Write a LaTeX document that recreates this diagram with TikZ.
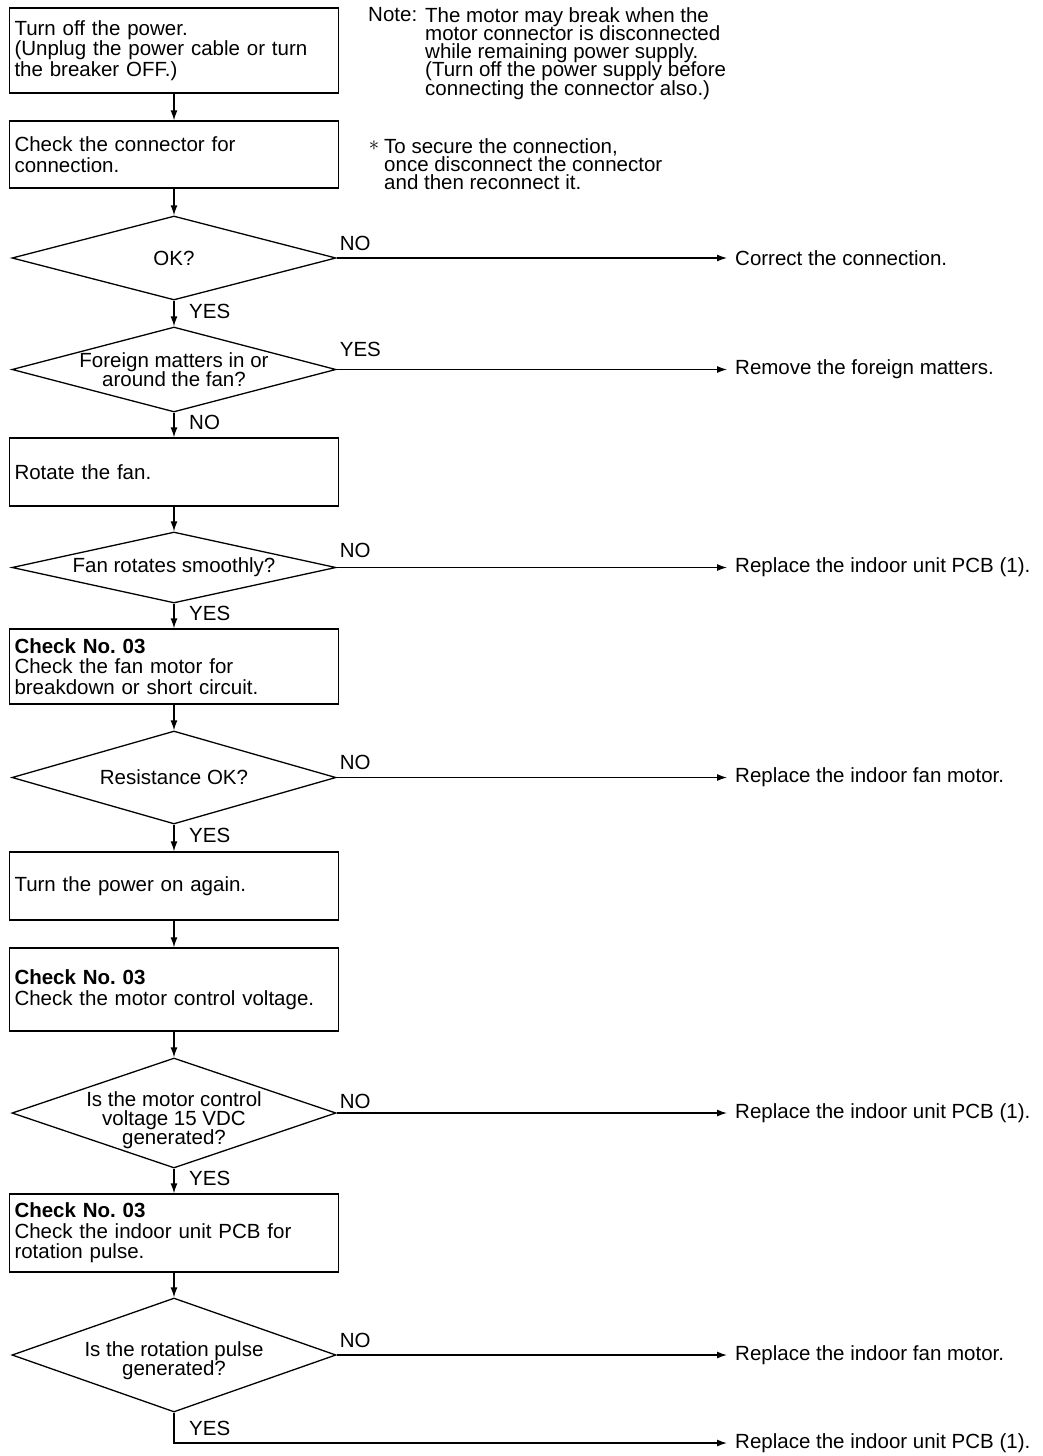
\documentclass[tikz,border=0pt]{standalone}
\usepackage{fontspec}
\setmainfont{Liberation Sans}
\usetikzlibrary{arrows.meta,shapes.geometric}
\frenchspacing
\setlength{\lineskiplimit}{-100pt}
\setlength{\lineskip}{0pt}

\begin{document}
\begin{tikzpicture}[x=1pt,y=-1pt,
  stepbox/.style={draw,line width=1.3pt,text width=319pt,inner xsep=5pt,inner ysep=0pt,align=left,font=\fontsize{20.5}{20.5}\selectfont},
  decision/.style={draw,line width=1.3pt,shape=diamond,minimum width=324pt,inner sep=0pt},
  asktext/.style={align=center,inner sep=0pt,font=\fontsize{20.5}{19}\selectfont},
  answer/.style={anchor=west,inner sep=0pt,font=\fontsize{20.5}{20}\selectfont},
  result/.style={anchor=west,inner sep=0pt,font=\fontsize{20.5}{20}\selectfont},
  note/.style={anchor=north west,inner sep=0pt,align=left,font=\fontsize{20.5}{18.3}\selectfont},
  flow/.style={line width=1.3pt,-{Latex[length=10pt,width=7pt]}},
  outflow/.style={flow,shorten >=8pt}]
\useasboundingbox (0,0) rectangle (1043,1456);
\node[stepbox,minimum height=85pt] (b1) at (174,50.5) {Turn off the power.\\(Unplug the power cable or turn\\the breaker OFF.)};
\node[stepbox,minimum height=67pt] (b2) at (174,154.5) {Check the connector for\\connection.};
\node[decision,minimum height=84pt] (d1) at (174,258) {};
\node[asktext] (q1) at (d1) {OK?};
\node[decision,minimum height=85pt] (d2) at (174,369.5) {};
\node[asktext] (q2) at (d2) {Foreign matters in or\\around the fan?};
\node[stepbox,minimum height=68pt] (b3) at (174,472) {Rotate the fan.};
\node[decision,minimum height=71pt] (d3) at (174,567.5) {};
\node[asktext] (q3) at (d3) {Fan rotates smoothly?};
\node[stepbox,minimum height=75pt] (b4) at (174,666.5) {\textbf{Check No. 03}\\Check the fan motor for\\breakdown or short circuit.};
\node[decision,minimum height=93pt] (d4) at (174,777.5) {};
\node[asktext] (q4) at (d4) {Resistance OK?};
\node[stepbox,minimum height=68pt] (b5) at (174,886) {Turn the power on again.};
\node[stepbox,minimum height=83pt] (b6) at (174,989.5) {\textbf{Check No. 03}\\Check the motor control voltage.};
\node[decision,minimum height=110pt] (d5) at (174,1113) {};
\node[asktext] (q5) at ([yshift=-7pt]d5) {Is the motor control\\voltage 15 VDC\\generated?};
\node[stepbox,minimum height=78pt] (b7) at (174,1233) {\textbf{Check No. 03}\\Check the indoor unit PCB for\\rotation pulse.};
\node[decision,minimum height=114pt] (d6) at (174,1355) {};
\node[asktext] (q6) at ([yshift=-6pt]d6) {Is the rotation pulse\\generated?};
\node[result] (r1) at (735,258) {Correct the connection.};
\node[result] (r2) at (735,369.5) {Remove the foreign matters.};
\node[result] (r3) at (735,567.5) {Replace the indoor unit PCB (1).};
\node[result] (r4) at (735,777.5) {Replace the indoor fan motor.};
\node[result] (r5) at (735,1113) {Replace the indoor unit PCB (1).};
\node[result] (r6) at (735,1355) {Replace the indoor fan motor.};
\node[result] (r7) at (735,1443) {Replace the indoor unit PCB (1).};
\node[answer] (a1r) at ([shift={(3,-15)}]d1.east) {NO};
\node[answer] (a1d) at ([shift={(15,11)}]d1.south) {YES};
\node[answer] (a2r) at ([shift={(3,-20)}]d2.east) {YES};
\node[answer] (a2d) at ([shift={(15,10)}]d2.south) {NO};
\node[answer] (a3r) at ([shift={(3,-17)}]d3.east) {NO};
\node[answer] (a3d) at ([shift={(15,10)}]d3.south) {YES};
\node[answer] (a4r) at ([shift={(3,-15)}]d4.east) {NO};
\node[answer] (a4d) at ([shift={(15,11)}]d4.south) {YES};
\node[answer] (a5r) at ([shift={(3,-12)}]d5.east) {NO};
\node[answer] (a5d) at ([shift={(15,10)}]d5.south) {YES};
\node[answer] (a6r) at ([shift={(3,-15)}]d6.east) {NO};
\node[answer] (a6d) at ([shift={(15,16)}]d6.south) {YES};
\node[note] (notehead) at (368,7) {Note:};
\node[note] (notebody) at (425,7) {The motor may break when the\\motor connector is disconnected\\while remaining power supply.\\(Turn off the power supply before\\connecting the connector also.)};
\node[inner sep=0pt,font=\fontsize{22}{22}\selectfont] (starmark) at (374,146) {$\ast$};
\node[note] (starbody) at (384,138) {To secure the connection,\\once disconnect the connector\\and then reconnect it.};
\draw[flow] (b1) -- (b2);
\draw[flow] (b2) -- (d1);
\draw[flow] (d1) -- (d2);
\draw[flow] (d2) -- (b3);
\draw[flow] (b3) -- (d3);
\draw[flow] (d3) -- (b4);
\draw[flow] (b4) -- (d4);
\draw[flow] (d4) -- (b5);
\draw[flow] (b5) -- (b6);
\draw[flow] (b6) -- (d5);
\draw[flow] (d5) -- (b7);
\draw[flow] (b7) -- (d6);
\draw[outflow] (d1.east) -- (r1.west);
\draw[outflow] (d2.east) -- (r2.west);
\draw[outflow] (d3.east) -- (r3.west);
\draw[outflow] (d4.east) -- (r4.west);
\draw[outflow] (d5.east) -- (r5.west);
\draw[outflow] (d6.east) -- (r6.west);
\draw[outflow] (d6.south) |- (r7.west);
\end{tikzpicture}
\end{document}
